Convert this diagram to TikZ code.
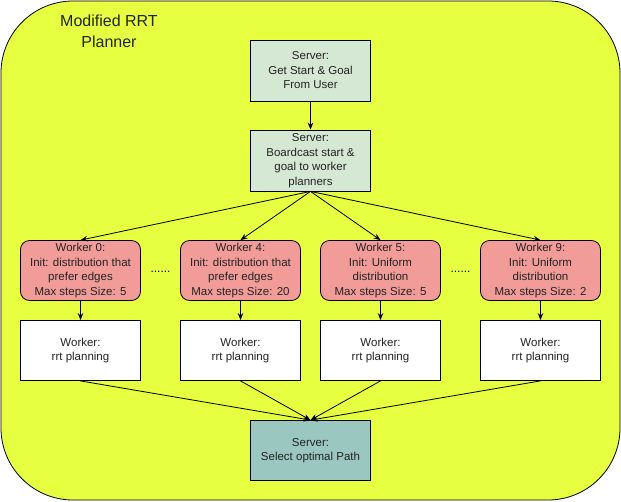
\documentclass[tikz,border=0pt]{standalone}
\usepackage{fontspec}
\setmainfont{Liberation Sans}
\usetikzlibrary{arrows.meta}
\definecolor{bgyellow}{RGB}{230,255,64}
\definecolor{srvgreen}{RGB}{213,232,212}
\definecolor{wred}{RGB}{241,156,153}
\definecolor{fteal}{RGB}{154,199,191}
\definecolor{txt}{RGB}{35,35,35}
\tikzset{
  box/.style={draw=black, line width=0.8pt, minimum width=120pt, minimum height=60pt,
    inner sep=1pt, align=center, font=\fontsize{11.5}{14.5}\selectfont, text=txt},
  srv/.style={box, fill=srvgreen, minimum height=61pt},
  wrk/.style={box, fill=wred, rounded corners=9pt},
  rrt/.style={box, fill=white},
  fin/.style={box, fill=fteal},
  arr/.style={-{Stealth[length=7pt,width=5.5pt]}, line width=0.8pt, black},
  dots/.style={font=\fontsize{12}{14}\selectfont, text=black}
}
\begin{document}
\begin{tikzpicture}[x=1pt,y=-1pt]
\useasboundingbox (0,0) rectangle (621,501);
\draw[fill=bgyellow, line width=0.8pt, rounded corners=72pt] (1,1) rectangle (620,500);
\node[font=\fontsize{16}{21}\selectfont, align=center, text=txt] (title) at (109,31) {Modified RRT\\Planner};

\node[srv] (s1) at (310.5,70.5) {Server:\\Get Start \& Goal\\From User};
\node[srv] (s2) at (310.5,160.5) {Server:\\Boardcast start \&\\goal to worker\\planners};

\node[wrk] (w0) at (80.5,270.5) {Worker 0:\\Init: distribution that\\prefer edges\\Max steps Size: 5};
\node[wrk] (w4) at (240.5,270.5) {Worker 4:\\Init: distribution that\\prefer edges\\Max steps Size: 20};
\node[wrk] (w5) at (380.5,270.5) {Worker 5:\\Init: Uniform\\distribution\\Max steps Size: 5};
\node[wrk] (w9) at (540.5,270.5) {Worker 9:\\Init: Uniform\\distribution\\Max steps Size: 2};

\node[dots] (d1) at (160.5,272) {......};
\node[dots] (d2) at (460.5,272) {......};

\node[rrt] (r0) at (80.5,350.5) {Worker:\\rrt planning};
\node[rrt] (r4) at (240.5,350.5) {Worker:\\rrt planning};
\node[rrt] (r5) at (380.5,350.5) {Worker:\\rrt planning};
\node[rrt] (r9) at (540.5,350.5) {Worker:\\rrt planning};

\node[fin] (f) at (310.5,450.5) {Server:\\Select optimal Path};

\draw[arr] (s1.south) -- (s2.north);
\foreach \w in {w0,w4,w5,w9} {
  \draw[arr] (s2.south) -- (\w.north);
}
\draw[arr] (w0.south) -- (r0.north);
\draw[arr] (w4.south) -- (r4.north);
\draw[arr] (w5.south) -- (r5.north);
\draw[arr] (w9.south) -- (r9.north);
\foreach \r in {r0,r4,r5,r9} {
  \draw[arr] (\r.south) -- (f.north);
}
\end{tikzpicture}
\end{document}
